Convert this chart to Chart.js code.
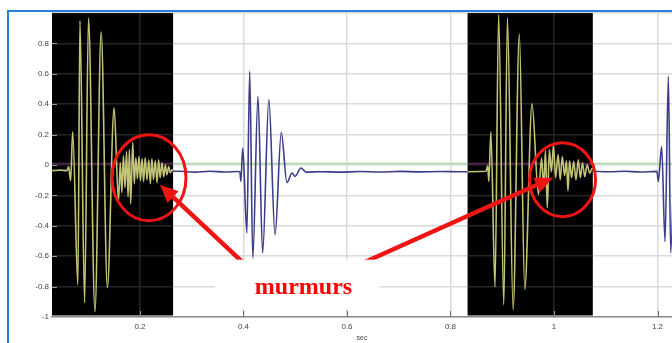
<!DOCTYPE html>
<html>
<head>
<meta charset="utf-8">
<script src="https://cdn.jsdelivr.net/npm/chart.js@4.4.1/dist/chart.umd.min.js"></script>
<style>
  html, body { margin: 0; padding: 0; background: #ffffff; }
  #wrap { width: 672px; height: 343px; position: relative; }
  canvas { display: block; }
</style>
</head>
<body>
<div id="wrap"><canvas id="pcg" width="672" height="343"></canvas></div>
<script>
// Phonocardiogram trace: time (s) and normalised amplitude
const signalTime = [
  0.030, 0.045, 0.059, 0.062, 0.066, 0.070, 0.080, 0.084, 0.093, 0.1005,
  0.113, 0.125, 0.137, 0.150, 0.1585, 0.162, 0.165, 0.168, 0.171, 0.174,
  0.177, 0.1795, 0.182, 0.186, 0.189, 0.192, 0.195, 0.198, 0.201, 0.204,
  0.207, 0.210, 0.2135, 0.217, 0.220, 0.223, 0.226, 0.2295, 0.233, 0.236,
  0.239, 0.2425, 0.246, 0.249, 0.252, 0.2555, 0.2585, 0.262, 0.265, 0.277,
  0.306, 0.335, 0.364, 0.389, 0.393, 0.395, 0.3985, 0.4065, 0.412, 0.418,
  0.428, 0.437, 0.449, 0.461, 0.473, 0.484, 0.494, 0.4995, 0.511, 0.521,
  0.548, 0.5865, 0.625, 0.664, 0.702, 0.741, 0.780, 0.818, 0.8685, 0.872,
  0.874, 0.878, 0.886, 0.893, 0.903, 0.910, 0.921, 0.933, 0.9435, 0.9575,
  0.970, 0.976, 0.980, 0.9835, 0.987, 0.991, 0.995, 0.999, 1.003, 1.008,
  1.012, 1.016, 1.0205, 1.024, 1.027, 1.030, 1.034, 1.038, 1.0425, 1.047,
  1.051, 1.055, 1.0595, 1.064, 1.069, 1.074, 1.079, 1.108, 1.137, 1.166,
  1.199, 1.2015, 1.208, 1.2145, 1.221, 1.2255, 1.234
];
const signalAmp = [
  -0.037, -0.034, -0.037, -0.011, -0.103, 0.219, -0.788, 0.949, -0.906, 0.969,
  -0.965, 0.877, -0.807, 0.377, -0.235, 0.015, -0.182, 0.061, -0.149, 0.088,
  -0.209, 0.101, -0.255, 0.147, -0.123, 0.048, -0.090, 0.055, -0.103, 0.041,
  -0.110, 0.048, -0.097, 0.035, -0.123, 0.041, -0.097, 0.028, -0.116, 0.035,
  -0.084, 0.015, -0.077, 0.002, -0.064, -0.011, -0.051, -0.031, -0.041, -0.041,
  -0.047, -0.041, -0.046, -0.043, -0.044, -0.108, 0.112, -0.447, 0.616, -0.612,
  0.451, -0.579, 0.430, -0.459, 0.214, -0.116, -0.053, -0.075, -0.020, -0.047,
  -0.044, -0.047, -0.043, -0.046, -0.042, -0.045, -0.043, -0.044, -0.041, -0.005,
  -0.108, 0.217, -0.801, 0.990, -0.919, 0.967, -0.952, 0.862, -0.820, 0.403,
  -0.195, 0.046, -0.149, 0.094, -0.281, 0.101, -0.044, 0.130, -0.084, 0.068,
  -0.097, 0.055, -0.070, 0.028, -0.169, 0.028, -0.084, 0.025, -0.097, 0.035,
  -0.084, 0.015, -0.077, 0.002, -0.054, -0.021, -0.041, -0.044, -0.041, -0.046,
  -0.042, -0.108, 0.122, -0.503, 0.583, -0.579, 0.430
];

// Axis ticks
const xTicks = [0.2, 0.4, 0.6, 0.8, 1.0, 1.2];
const yTicks = [-1, -0.8, -0.6, -0.4, -0.2, 0, 0.2, 0.4, 0.6, 0.8, 1];
const xRange = [0.03, 1.228];
const yRange = [-1, 1];
const xTitle = 'sec';

// Systolic windows shown inverted (S1 + murmur)
const highlightStart = [0.03, 0.833];
const highlightEnd = [0.264, 1.075];

// Reference level drawn across the trace
const thresholdLevel = 0.01;

// Callout
const calloutText = 'murmurs';

const fmt = v => String(Math.round(v * 10) / 10);

const signalPoints = signalTime.map((t, i) => ({ x: t, y: signalAmp[i] }));
const thresholdPoints = xRange.map(t => ({ x: t, y: thresholdLevel }));

const tickFont = { family: '"Liberation Sans", Arial, sans-serif', size: 8 };

const scopePlugin = {
  id: 'scope',
  beforeDraw(chart) {
    const ctx = chart.ctx;
    ctx.save();
    ctx.fillStyle = '#ffffff';
    ctx.fillRect(0, 0, chart.width, chart.height);
    ctx.restore();
  },
  beforeDatasetsDraw(chart) {
    // inward tick marks
    const { ctx, chartArea: a, scales: { x, y } } = chart;
    ctx.save();
    ctx.strokeStyle = '#666666';
    ctx.lineWidth = 1;
    yTicks.forEach(v => {
      if (v <= yRange[0] || v >= yRange[1]) return;
      const py = Math.round(y.getPixelForValue(v)) + 0.5;
      ctx.beginPath();
      ctx.moveTo(a.left, py);
      ctx.lineTo(a.left + 5, py);
      ctx.stroke();
    });
    xTicks.forEach(v => {
      const pxv = Math.round(x.getPixelForValue(v)) + 0.5;
      ctx.beginPath();
      ctx.moveTo(pxv, a.bottom);
      ctx.lineTo(pxv, a.bottom - 6);
      ctx.stroke();
    });
    ctx.restore();
  },
  afterDatasetsDraw(chart) {
    // invert colours inside the highlighted windows
    const { ctx, chartArea: a, scales: { x } } = chart;
    ctx.save();
    ctx.globalCompositeOperation = 'difference';
    ctx.fillStyle = '#ffffff';
    highlightStart.forEach((s, i) => {
      const x0 = Math.max(a.left, x.getPixelForValue(s));
      const x1 = Math.min(a.right, x.getPixelForValue(highlightEnd[i]));
      ctx.fillRect(x0, a.top, x1 - x0, a.bottom - a.top - 1.5);
    });
    ctx.restore();
  },
  afterDraw(chart) {
    const { ctx, scales: { x, y } } = chart;
    const P = (dx, dy) => [x.getPixelForValue(dx), y.getPixelForValue(dy)];
    const red = '#f01414';
    ctx.save();

    // circles around the murmurs
    ctx.strokeStyle = red;
    ctx.lineWidth = 3;
    [[0.2174, -0.0836, 37, 43], [1.0165, -0.0967, 33, 37]].forEach(([cx, cy, rx, ry]) => {
      const [px, py] = P(cx, cy);
      ctx.beginPath();
      ctx.ellipse(px, py, rx, ry, 0, 0, Math.PI * 2);
      ctx.stroke();
    });

    // arrows from the callout box
    const arrow = (from, to) => {
      const [x0, y0] = P(from[0], from[1]);
      const [x1, y1] = P(to[0], to[1]);
      const ang = Math.atan2(y1 - y0, x1 - x0);
      const head = 18, half = 8;
      const bx = x1 - head * Math.cos(ang), by = y1 - head * Math.sin(ang);
      ctx.strokeStyle = red;
      ctx.lineWidth = 4.5;
      ctx.beginPath();
      ctx.moveTo(x0, y0);
      ctx.lineTo(bx, by);
      ctx.stroke();
      ctx.fillStyle = red;
      ctx.beginPath();
      ctx.moveTo(x1, y1);
      ctx.lineTo(bx + half * Math.sin(ang), by - half * Math.cos(ang));
      ctx.lineTo(bx - half * Math.sin(ang), by + half * Math.cos(ang));
      ctx.closePath();
      ctx.fill();
    };
    arrow([0.4126, -0.685], [0.2386, -0.130]);
    arrow([0.6251, -0.653], [0.9981, -0.0836]);

    // callout box and text
    const [bx0, by0] = P(0.3449, -0.623);
    const [bx1, by1] = P(0.6638, -0.945);
    ctx.fillStyle = '#ffffff';
    ctx.fillRect(bx0, by0, bx1 - bx0, by1 - by0);
    const [tx, ty] = P(0.516, -0.847);
    ctx.fillStyle = '#ff0000';
    ctx.font = 'bold 24px "Liberation Serif", "Times New Roman", serif';
    ctx.textAlign = 'center';
    ctx.textBaseline = 'alphabetic';
    ctx.fillText(calloutText, tx, ty);

    // blue panel frame
    ctx.strokeStyle = '#2a80d8';
    ctx.lineWidth = 2;
    ctx.beginPath();
    ctx.moveTo(8, chart.height);
    ctx.lineTo(8, 11);
    ctx.lineTo(chart.width, 11);
    ctx.stroke();
    ctx.restore();
  }
};

new Chart(document.getElementById('pcg'), {
  type: 'line',
  data: {
    datasets: [
      {
        data: signalPoints,
        borderColor: '#3c3c8a',
        borderWidth: 1.6,
        pointRadius: 0,
        cubicInterpolationMode: 'monotone',
        fill: false
      },
      {
        data: thresholdPoints,
        borderColor: '#a8dca8',
        borderWidth: 1.3,
        pointRadius: 0,
        tension: 0,
        fill: false
      }
    ]
  },
  options: {
    responsive: false,
    animation: false,
    devicePixelRatio: 1,
    layout: { padding: { top: 13, left: 0, right: 0, bottom: 0 } },
    plugins: { legend: { display: false }, tooltip: { enabled: false } },
    scales: {
      x: {
        type: 'linear',
        min: xRange[0],
        max: xRange[1],
        afterBuildTicks: s => { s.ticks = xTicks.map(v => ({ value: v })); },
        afterFit: s => { s.height = 26; },
        ticks: { callback: v => fmt(v), font: tickFont, color: '#444444', padding: 5, maxRotation: 0, autoSkip: false },
        grid: { color: '#dadada', lineWidth: 1.5, drawTicks: false },
        border: { display: true, color: '#8c8c8c', width: 1.5 },
        title: { display: true, text: xTitle, color: '#444444', font: { family: tickFont.family, size: 7 }, padding: { top: 0, bottom: 1 } }
      },
      y: {
        type: 'linear',
        min: yRange[0],
        max: yRange[1],
        afterBuildTicks: s => { s.ticks = yTicks.map(v => ({ value: v })); },
        afterFit: s => { s.width = 52; },
        ticks: { callback: v => (v >= yRange[1] ? '' : fmt(v)), font: tickFont, color: '#444444', padding: 3, autoSkip: false },
        grid: { color: '#dadada', lineWidth: 1.5, drawTicks: false },
        border: { display: false }
      }
    }
  },
  plugins: [scopePlugin]
});
</script>
</body>
</html>
